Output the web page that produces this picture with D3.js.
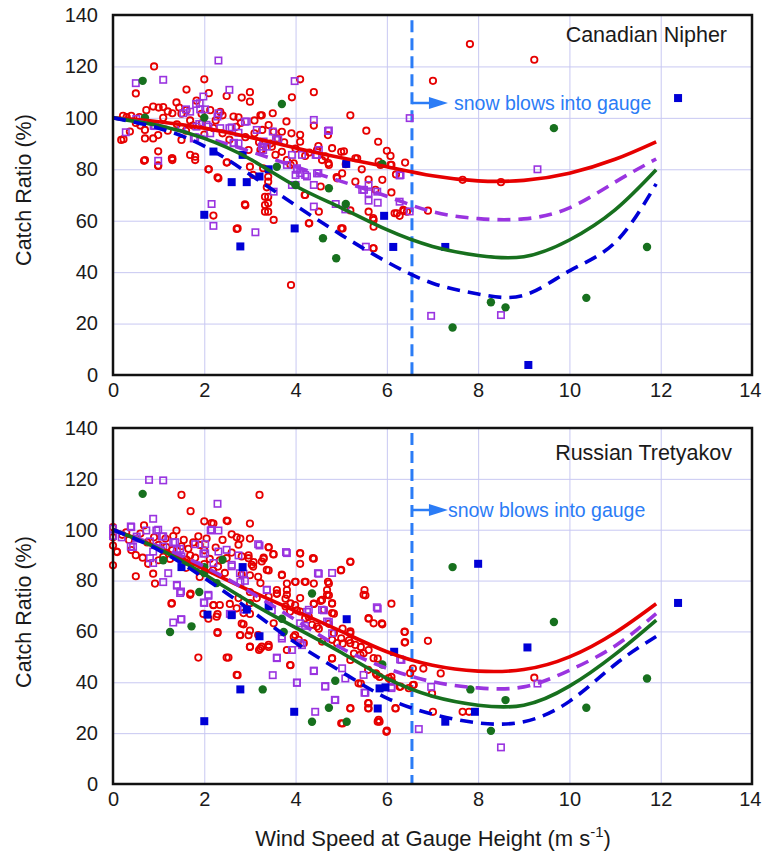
<!DOCTYPE html>
<html><head><meta charset="utf-8">
<script src="https://cdn.jsdelivr.net/npm/d3@7"></script>
<style>body{margin:0;background:#fff} text{font-family:"Liberation Sans",Arial,sans-serif;fill:#1a1a1a}</style>
</head><body><svg id="c" width="762" height="854"></svg>
<script>
const xTicks=[0,2,4,6,8,10,12,14];
const yTicks=[0,20,40,60,80,100,120,140];
const snowX=6.55;
const fitX=[0,1,2,3,4,5,6,7,8,9,10,11,11.9];
// Canadian Nipher fits
const nipherRedFit=[100,98.5,96,92.5,88.3,84.5,81,77.5,75.5,75.7,78.5,83.9,90.7];
const nipherPurpleFit=[100,97,92.5,87,81,75.3,69.5,63.5,60.8,60.7,65,75,84];
const nipherGreenFit=[100,97,92,84,73.5,65,56.5,50,46.5,46,52.5,64.2,79.8];
const nipherBlueFit=[100,96,89,78,66,54.5,44,35.7,31.5,31,40.5,51.5,74.3];
// Russian Tretyakov fits
const tretRedFit=[100,93,84.5,76,68,60,52,46.7,44.4,45,50,59.5,70.9];
const tretPurpleFit=[100,93.5,85.5,75.5,64.5,53.5,45.5,40.2,37.8,38.2,44.7,54.3,67];
const tretGreenFit=[100,92.5,82.5,71.5,61.5,51.7,41.5,34.5,31,31,38.5,51,64.4];
const tretBlueFit=[100,92,81,68.5,55.5,44.2,33.8,27.5,24,24.5,32.5,47,58];

const nipherRed=[[0.9,120],[2.0,115],[4.1,115],[1.61,111],[0.5,109.5],[4.4,110],[3.0,110],[3.0,106.3],[2.82,107.9],[3.92,108],[2.49,108.5],[2.1,109.6],[1.39,106],[1.61,103],[1.83,106.7],[5.2,101],
[0.22,100.8],[0.3,100.3],[0.4,100.8],[0.58,100.3],[0.73,103],[0.88,104.4],[1.0,104],[1.1,104.2],[1.3,101.8],[1.5,101.6],[1.69,99],[1.94,101.6],[2.13,103],[2.35,102.3],[2.64,100.5],[2.75,100.2],[3.23,101],[3.5,101.8],[3.8,98.6],[4.4,97],[5.55,95],
[0.18,91.4],[0.37,94.7],[0.7,92],[0.88,92],[0.99,93.3],[0.99,87],[0.99,81.5],[0.68,83.3],[1.3,84.3],[1.5,91.4],[1.69,85.6],[1.8,84.9],[2.09,80],[2.31,76.5],[2.5,82.7],[2.9,66],[2.73,57],[2.2,62],[3.0,81],[2.97,87.5],[3.23,87.5],[3.45,90],[3.37,73],[3.4,69.3],[3.4,66.8],[3.4,63.5],[3.52,60.3],[3.4,77.1],[3.4,75.2],[3.89,81.7],[3.96,82.3],[4.1,93.4],[4.1,90.7],[4.2,70],[4.3,59],[4.51,63.5],[4.55,73.3],[4.72,82.4],[4.8,88.2],[4.9,77],[5.0,86.8],[5.06,87],[5.02,78.4],[5.03,57],[5.2,64],[5.31,75.2],[5.35,84.3],[5.6,63.5],[5.7,61],[5.71,60.3],[5.71,57.7],[5.7,49.3],[5.81,90.7],[5.82,83],[6.0,87.2],[6.08,85.2],[6.1,81.7],[6.4,82.6],[5.9,75.9],[6.1,71],[6.17,62.9],[6.28,61.9],[6.37,63.8],[6.9,63.9],[7.01,114.4],[7.82,128.7],[9.23,122.6],[7.66,75.9],[8.5,75],[3.9,35],
[0.7,95.3],[0.23,91.7],[0.7,83.6],[1.29,84.3],[3.41,97.2],[3.26,101],[3.7,94.6],[3.91,94],[3.27,95.3],[3.52,94.6],[4.71,93.3],[5.31,84.3],[3.26,87.5],[3.56,85.6],[3.7,86.8],[3.48,88.8],[3.81,83.6],[4.21,85.2],[4.58,83.6],[4.47,87.5],[4.21,70],[4.29,59],[5.0,57],[5.71,49.3],[4.91,76.5],[4.73,81.7],[6.08,81.7],[5.86,81.7],[0.99,81.3],[1.3,83.6],[1.8,83.6],[2.1,80],[2.29,76.9],[2.49,82.6],[3.07,77.8],[3.29,80.4],[2.89,66.4],[2.71,56.8],[3.33,69.3],[3.33,66.1],[3.33,63.5],[6.22,62.9],[6.36,64.2],[6.44,63.5],
[1.2,95],[1.4,97.5],[1.6,95],[1.75,97],[2.0,93.5],[2.2,96],[2.4,94],[2.55,91.5],[2.7,96.5],[2.9,92.5],[3.1,94],[3.2,90.5],[1.1,100],[0.5,98],[0.6,97],[1.2,102.5],[1.45,104],[1.95,98],[2.25,99],[2.4,101],[2.8,98],[3.1,99],[3.6,92],[3.75,90.5],[4.0,88],[4.3,86.5],[4.5,89],[4.65,85],[5.1,82],[5.45,80],[5.6,76],[5.75,72],[6.2,78]];
const nipherPurple=[[0.5,113.5],[1.1,114.8],[2.31,122.3],[2.55,110.9],[3.98,114.3],[0.28,94.4],[0.51,99.6],[0.89,96.9],[0.99,83.3],[1.5,96],[1.54,101.8],[1.77,92],[1.83,96.6],[1.9,105.7],[1.98,108.3],[2.05,97.3],[2.13,94],[2.31,101.8],[2.35,96],[2.55,96],[2.64,90.1],[2.75,90.1],[2.93,98.6],[3.3,90.8],[3.37,88.8],[3.5,94.7],[3.57,91.4],[3.92,85.6],[4.14,85.6],[4.03,79.8],[4.1,78.5],[4.25,77.2],[4.4,73.9],[4.44,85.6],[4.5,78.5],[4.4,99.2],[4.73,95.1],[2.16,66.5],[2.2,58],[3.12,55.5],[3.52,71.3],[3.92,73.9],[4.4,65.5],[4.88,66.5],[5.54,49.9],[5.5,72],[5.6,70.7],[5.8,67],[5.6,67.8],[5.6,73.9],[5.79,71.3],[6.5,99.9],[9.3,80],[6.28,77.6],[6.28,67.4],[6.5,63.6],[6.97,23],[8.5,23.3],[1.82,105.4],[1.6,103.3],[1.69,102.4],[1.91,103.3],[2.02,103.3],[2.29,100.5],[0.92,96.8],[1.8,92.4],[1.89,97.6],[2.09,96.6],[2.6,96.3],[2.75,94.2],[2.65,90.3],[2.89,98.5],[3.15,95.3],[3.29,90.1],[3.29,87.5],[3.62,91.7],[3.26,88.8],[4.51,87.5],[4.47,85.6],[5.09,64.4],[5.46,72],[4.47,78.4],[4.0,77.8],[4.21,77.8],[4.0,73.9],[3.81,81.7],[4.03,80.4],[6.3,77.8],[4.71,94.9]];
const nipherGreen=[[0.65,114.4],[0.7,100.1],[2.0,100.1],[3.7,105.4],[3.59,81],[4.0,73.9],[4.73,72.6],[4.6,53.2],[4.89,45.4],[5.1,66.5],[5.9,82.1],[9.66,96],[7.44,18.5],[8.28,28.3],[8.6,26.3],[10.37,30],[11.7,49.8]];
const nipherBlue=[[2.2,86.9],[2.84,85.6],[2.6,75],[2.93,75],[3.21,77.2],[3.41,80],[2.0,62.3],[2.79,50],[3.98,57],[5.11,82.1],[5.94,61.9],[6.14,49.8],[7.28,49.8],[9.1,3.9],[12.38,107.7]];

const tretRed=[[1.5,113.7],[3.21,113.7],[1.7,107.3],[0,101],[0,97],[0,93.8],[0,86],[0.09,91.2],[0.29,99],[0.5,90],[0.5,81.7],[0.68,101.7],[0.88,82.7],[0.92,78.8],[0.77,86.6],[1.1,89.3],[1.17,93.2],[1.39,99.7],[1.5,93.5],[1.32,97.5],[1.28,70.9],[1.69,89.9],[1.76,95],[1.87,97.4],[2.0,103.3],[2.2,102.4],[2.0,91.9],[1.9,81.4],[1.7,74.9],[1.87,49.7],[2.09,65],[2.29,66.8],[2.29,59.4],[2.2,70.3],[2.51,103.4],[2.6,98.2],[2.71,97],[2.79,96.5],[3.0,102.4],[3.0,96.5],[2.97,89.9],[3.08,87.3],[3.0,82.1],[3.18,81.5],[3.23,79],[3.0,75.5],[2.53,49.7],[2.73,42.8],[2.82,63.1],[2.79,58.5],[2.97,58.5],[3.0,53.9],[3.23,53.3],[3.41,53.9],[3.3,88.6],[3.41,93.2],[3.52,90.3],[3.41,84],[3.59,74.9],[3.7,82.1],[3.81,78.8],[3.78,72.9],[3.89,71],[4.03,68.3],[4.1,90.6],[4.1,86.6],[4.4,88.6],[4.0,79.5],[4.22,79.5],[4.4,78.8],[4.4,70.9],[4.55,72],[4.73,78.8],[4.73,74.2],[4.8,70.9],[4.84,67],[4.99,84],[5.2,87.3],[5.03,61.1],[5.17,56.5],[4.73,63],[4.51,61.1],[3.89,46.7],[3.96,57.9],[4.29,65.7],[4.8,49.3],[5.03,55.2],[5.2,60],[5.28,51.3],[5.43,53.9],[5.53,74.2],[5.6,65],[5.43,39.5],[5.6,31.7],[5.6,29.7],[5.2,29.7],[5.03,23.8],[5.8,24.5],[5.76,43.5],[5.8,49.3],
[6.1,70.9],[5.9,62.8],[6.39,59.8],[6.39,55.6],[6.9,56.3],[5.84,42.1],[6.1,42.1],[6.1,40.5],[6.28,38.2],[6.19,29.7],[5.99,20.5],[5.84,24.5],[6.57,45.4],[6.57,38.9],[6.8,45.4],[7.18,43.5],[6.99,35.6],[7.01,28.4],[7.66,28.4],[7.8,28.4],[9.23,41.8],
[2.49,103.6],[2.16,102.6],[0.08,91.4],[1.25,88.5],[1.43,89],[1.61,88.2],[1.8,89],[2.12,88.5],[2.34,88],[2.49,88.8],[2.19,84],[2.3,85.5],[2.45,83],[2.75,94.1],[2.82,89.5],[2.97,88.8],[3.04,86.2],[2.82,82.3],[3.07,85.5],[3.26,87.5],
[3.41,93],[3.51,90.4],[3.3,89],[3.37,84.2],[4.1,90.8],[4.38,88.8],[5.2,87.5],[5.0,84.2],[3.7,82.3],[3.99,79.5],[4.2,79.5],[4.71,79.5],[3.81,76.3],[3.59,76.3],[4.69,76.3],[5.51,76.3],
[1.29,71.1],[1.69,74.4],[1.98,66.9],[2.27,65.8],[2.2,70.4],[2.34,70.4],[2.56,70.8],[2.71,69.1],[2.75,73.1],[3.0,71.1],[3.15,73.1],[2.86,67.2],[3.0,66.9],[2.29,59.7],[2.86,62.8],[2.78,58.6],[3.0,60.3],[3.18,58.6],[3.0,54],[3.2,52.7],[2.49,49.7],[2.71,42.9],
[3.41,73.7],[3.59,74.8],[3.81,74.4],[4.1,73.1],[4.4,70.8],[4.58,72.4],[4.69,74.4],[4.8,71.1],[4.8,67.2],[4.62,68.5],[3.99,70.4],[3.78,69.8],[3.88,67.8],[4.1,67.8],[4.21,65.2],[4.36,62.6],[3.99,58.6],[4.07,56.7],[4.18,55.4],[4.47,61.9],[4.58,56],[4.8,56.7],[4.84,59.3],[5.49,74.4],[5.6,65.2],[5.71,63.2],[5.89,63.2],[5.2,59.3],[5.2,55.4],[5.31,54.7],[5.49,51.4],[5.6,52.7],[5.42,50.8],[5.2,48.8],[5.71,49.5],[5.0,57.3],[4.91,55.4],[4.8,49.5],[5.59,44.9],[5.78,42.9],[6.04,41.6],[6.11,40.3],[6.39,59.9],[6.4,55.8],[6.51,43.6],[6.59,39],[6.48,37.7],[6.3,38.3],[5.38,39.6],[5.59,31.8],[5.59,29.8],[5.82,25.2],[6.0,21],[5.2,29.8],[5.0,23.9],[6.19,29.8],[3.88,46.8],[3.26,54],[3.41,54.7],[3.52,63.2],[3.81,52.7],
[0.2,98],[0.35,96],[0.6,98.5],[0.75,95],[0.9,97],[1.0,94],[1.15,96.5],[1.3,92],[1.55,96],[1.65,92.5],[1.9,94],[2.05,96.5],[2.25,93],[2.4,96],[2.6,91],[0.4,92],[0.65,89],[1.0,88],[1.6,85],[2.0,86.5]];
const tretPurple=[[0.79,119.6],[1.1,119.4],[2.29,110.2],[0,100.4],[0,97.5],[0.4,101],[0.88,104.3],[0.51,96.5],[0.44,93.2],[0.73,99.7],[0.95,99.7],[1.1,97.4],[1.32,95],[1.47,92.5],[1.5,89.5],[1.83,86],[1.98,90.6],[2.14,99.7],[2.31,99.7],[2.49,92.1],[2.6,85.6],[2.75,89.9],[2.86,82.7],[2.79,79.4],[3.21,93.8],[3.37,76.4],[3.81,90.8],[4.51,82.7],[4.8,83],[1.32,63.5],[1.5,64.7],[1.47,75.1],[1.4,78],[2.0,71.2],[2.09,74],[2.6,66.8],[2.87,68.6],[3.48,68.3],[3.59,49.7],[3.7,57.2],[3.5,42.8],[4.03,39.8],[4.4,44.4],[4.43,28.4],[4.65,38.5],[4.87,33],[4.73,63.7],[4.62,68.3],[4.25,67.7],[4.14,54.6],[5.09,41.5],[5.53,35.9],[5.8,69],
[6.29,49],[6.1,38.2],[6.97,38.2],[9.3,39.5],[6.7,21.6],[8.5,14.4],
[0.39,101.3],[0.99,100],[2.16,100],[0.19,97],[0.39,93.4],[0.52,97.3],[0.81,95.4],[1.07,97.3],[1.1,93.4],[1.36,95.1],[1.4,92.1],[1.8,94.3],[2.02,94.3],[2.02,90.7],[2.31,91.4],[3.18,94.3],[0.88,91.4],[0.81,88.8],[0.88,86.9],[1.21,82.9],[1.1,79.4],[1.4,78.3],[1.49,75.7],[2.2,86.9],[2.6,86.2],[2.78,82.9],[2.89,79.9],
[3.79,91.2],[4.49,82.9],[3.37,76.3],[2.09,74.4],[1.99,71.4],[1.49,64.8],[2.56,66.9],
[5.78,69.5],[4.29,68.5],[4.58,68.5],[4.69,63.9],[4.1,63.2],[4.21,62.2],[4.8,59.3],[3.7,58],[4.1,55.4],[3.92,52.7],[3.59,49.5],[4.4,44.6],[4.03,39.9],[4.65,38.3],[4.86,33.1],[5.02,45.5],[5.49,42.9],[5.51,35.9],[6.1,37.7],[6.32,48.8]];
const tretGreen=[[0.65,114.1],[1.1,88],[1.25,59.8],[1.72,62],[1.89,75.5],[2.0,85.3],[2.0,83],[2.4,88.2],[2.27,79],[3.7,65],[3.74,59.8],[4.36,74.9],[3.28,37.2],[4.36,24.5],[4.73,30],[4.87,40.6],[5.12,24.5],[5.9,47],[7.44,85.3],[7.83,37.2],[8.6,33],[8.28,20.9],[9.66,63.7],[10.37,30],[11.7,41.5]];
const tretBlue=[[1.5,85.3],[2.84,85.3],[2.6,66.4],[2.93,68.6],[3.41,69.9],[3.21,58.1],[2.07,66.6],[2.79,37.2],[3.97,28.4],[2.0,24.7],[5.12,64.8],[5.8,29.7],[6.16,52],[5.84,37.6],[5.97,38],[7.28,24.5],[7.93,28.4],[8.0,86.6],[9.08,53.7],[12.38,71.2]];

const C={red:"#e60000",purple:"#9a34e0",green:"#17701e",blue:"#0000d6",snow:"#2b7cf6",grid:"#c8c8f2"};
const svg=d3.select("#c");
const L=113,R=752;
const panels=[
 {title:"Canadian Nipher",top:15,bottom:375,titleX:727,titleY:42,arrowY:103,textX:454,ylab:190,
  red:nipherRed,purple:nipherPurple,green:nipherGreen,blue:nipherBlue,
  fits:[nipherRedFit,nipherPurpleFit,nipherGreenFit,nipherBlueFit]},
 {title:"Russian Tretyakov",top:428,bottom:784,titleX:732,titleY:460,arrowY:510,textX:448,ylab:612,
  red:tretRed,purple:tretPurple,green:tretGreen,blue:tretBlue,
  fits:[tretRedFit,tretPurpleFit,tretGreenFit,tretBlueFit]}
];
const fitStyle=[{c:C.red,d:null},{c:C.purple,d:"13,8"},{c:C.green,d:null},{c:C.blue,d:"13,8"}];

panels.forEach(p=>{
  const x=d3.scaleLinear().domain([0,14]).range([L,R]);
  const y=d3.scaleLinear().domain([0,140]).range([p.bottom,p.top]);
  const g=svg.append("g");
  // grid
  g.append("g").attr("transform",`translate(0,${p.bottom})`)
   .call(d3.axisBottom(x).tickValues(xTicks).tickSize(-(p.bottom-p.top)).tickFormat(""))
   .call(a=>{a.select(".domain").remove();a.selectAll("line").attr("stroke",C.grid).attr("stroke-width",1);});
  g.append("g").attr("transform",`translate(${L},0)`)
   .call(d3.axisLeft(y).tickValues(yTicks).tickSize(-(R-L)).tickFormat(""))
   .call(a=>{a.select(".domain").remove();a.selectAll("line").attr("stroke",C.grid).attr("stroke-width",1);});
  // tick labels
  g.append("g").attr("transform",`translate(0,${p.bottom})`)
   .call(d3.axisBottom(x).tickValues(xTicks).tickSize(0).tickPadding(8))
   .call(a=>{a.select(".domain").remove();
     a.selectAll("text").attr("font-size",20).attr("font-family","Liberation Sans, Arial").attr("fill","#1a1a1a")
      .filter(d=>d===14).attr("text-anchor","end").attr("dx",9);});
  g.append("g").attr("transform",`translate(${L},0)`)
   .call(d3.axisLeft(y).tickValues(yTicks).tickSize(0).tickPadding(15))
   .call(a=>{a.select(".domain").remove();a.selectAll("text").attr("font-size",20).attr("font-family","Liberation Sans, Arial").attr("fill","#1a1a1a");});
  // snow line
  g.append("line").attr("x1",x(snowX)).attr("x2",x(snowX)).attr("y1",y(138)).attr("y2",y(0))
   .attr("stroke",C.snow).attr("stroke-width",3).attr("stroke-dasharray","12,6");
  g.append("line").attr("x1",x(snowX)).attr("x2",x(snowX)+20).attr("y1",p.arrowY).attr("y2",p.arrowY)
   .attr("stroke",C.snow).attr("stroke-width",2.5);
  const ax=x(snowX)+17;
  g.append("path").attr("d",`M${ax},${p.arrowY-6}L${ax+19},${p.arrowY}L${ax},${p.arrowY+6}Z`).attr("fill",C.snow);
  g.append("text").attr("x",p.textX).attr("y",p.arrowY+6.5).attr("font-size",19.5).style("fill",C.snow).text("snow blows into gauge");
  // points
  g.append("g").selectAll("circle").data(p.red).join("circle")
   .attr("cx",d=>x(d[0])).attr("cy",d=>y(d[1])).attr("r",3.2)
   .attr("fill","none").attr("stroke",C.red).attr("stroke-width",1.8);
  g.append("g").selectAll("rect").data(p.purple).join("rect")
   .attr("x",d=>x(d[0])-3.2).attr("y",d=>y(d[1])-3.2).attr("width",6.4).attr("height",6.4)
   .attr("fill","none").attr("stroke",C.purple).attr("stroke-width",1.6);
  g.append("g").selectAll("circle").data(p.green).join("circle")
   .attr("cx",d=>x(d[0])).attr("cy",d=>y(d[1])).attr("r",4.2).attr("fill",C.green);
  g.append("g").selectAll("rect").data(p.blue).join("rect")
   .attr("x",d=>x(d[0])-4).attr("y",d=>y(d[1])-4).attr("width",8).attr("height",8).attr("fill",C.blue);
  // fits
  const line=d3.line().x(d=>x(d[0])).y(d=>y(d[1])).curve(d3.curveNatural);
  p.fits.forEach((f,i)=>{
    const pts=fitX.map((v,k)=>[v,f[k]]);
    const path=g.append("path").attr("d",line(pts)).attr("fill","none")
      .attr("stroke",fitStyle[i].c).attr("stroke-width",3.6).attr("stroke-linecap","butt");
    if(fitStyle[i].d) path.attr("stroke-dasharray",fitStyle[i].d);
  });
  // frame
  g.append("rect").attr("x",L).attr("y",p.top).attr("width",R-L).attr("height",p.bottom-p.top)
   .attr("fill","none").attr("stroke","#111").attr("stroke-width",2.5);
  // title
  g.append("text").attr("x",p.titleX).attr("y",p.titleY).attr("text-anchor","end").attr("font-size",21.5).text(p.title);
  // y label
  g.append("text").attr("transform",`translate(31,${p.ylab}) rotate(-90)`).attr("text-anchor","middle")
   .attr("font-size",21.5).text("Catch Ratio (%)");
});
const xt=svg.append("text").attr("x",433).attr("y",846).attr("text-anchor","middle").attr("font-size",22);
xt.append("tspan").text("Wind Speed at Gauge Height (m s");
xt.append("tspan").attr("dy",-9).attr("font-size",15).text("-1");
xt.append("tspan").attr("dy",9).text(")");
</script></body></html>
